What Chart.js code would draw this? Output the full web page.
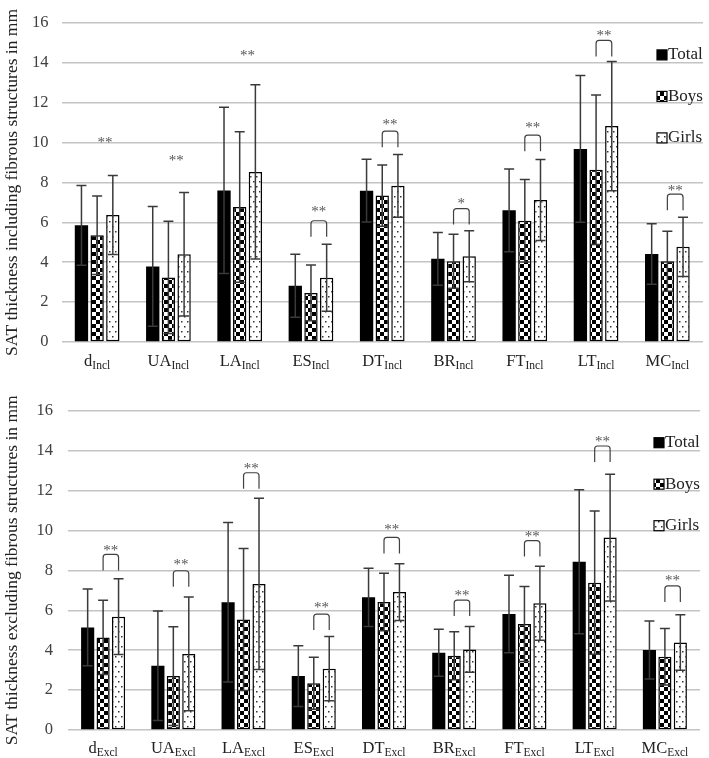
<!DOCTYPE html>
<html lang="en">
<head>
<meta charset="UTF-8">
<title>SAT thickness</title>
<style>
    body { margin: 0; background: #fff; }
    .box { position: absolute; left: 0; width: 709px; }
    #top { top: 0; height: 375px; }
    #bottom { top: 375px; height: 383px; }
</style>
</head>
<body>
<div class="box" id="top"><canvas id="chartIncl"></canvas></div>
<div class="box" id="bottom"><canvas id="chartExcl"></canvas></div>

<script src="https://cdn.jsdelivr.net/npm/chart.js"></script>
<script>
    const sites = ['d', 'UA', 'LA', 'ES', 'DT', 'BR', 'FT', 'LT', 'MC'];

    // including fibrous structures (mean, SD)
    const inclTotal = [5.85, 3.79, 7.6, 2.82, 7.59, 4.17, 6.6, 9.68, 4.41];
    const inclTotalSD = [2.0, 3.0, 4.17, 1.58, 1.57, 1.32, 2.07, 3.68, 1.52];
    const inclBoys = [5.35, 3.24, 6.77, 2.46, 7.34, 4.05, 6.08, 8.64, 4.05];
    const inclBoysSD = [1.97, 2.82, 3.77, 1.4, 1.54, 1.35, 2.07, 3.75, 1.5];
    const inclGirls = [6.37, 4.4, 8.53, 3.22, 7.83, 4.3, 7.12, 10.83, 4.77];
    const inclGirlsSD = [1.98, 3.1, 4.37, 1.68, 1.57, 1.28, 2.03, 3.24, 1.48];
    const inclStars = ['**', '**', '**', '**', '**', '*', '**', '**', '**'];
    const inclStarAt = [10.13, 9.24, 14.5, 6.65, 11.02, 7.05, 10.86, 15.48, 7.73];
    const inclBracket = [null, null, null, 6.08, 10.57, 6.69, 10.37, 15.12, 7.41];

    // excluding fibrous structures (mean, SD)
    const exclTotal = [5.14, 3.22, 6.4, 2.7, 6.65, 3.87, 5.81, 8.43, 4.01];
    const exclTotalSD = [1.92, 2.74, 4.0, 1.52, 1.46, 1.18, 1.94, 3.61, 1.45];
    const exclBoys = [4.64, 2.7, 5.54, 2.34, 6.41, 3.72, 5.31, 7.38, 3.67];
    const exclBoysSD = [1.86, 2.48, 3.56, 1.3, 1.44, 1.2, 1.88, 3.59, 1.42];
    const exclGirls = [5.68, 3.81, 7.32, 3.07, 6.91, 4.04, 6.35, 9.64, 4.38];
    const exclGirlsSD = [1.9, 2.85, 4.29, 1.61, 1.42, 1.15, 1.85, 3.17, 1.39];
    const exclStars = ['**', '**', '**', '**', '**', '**', '**', '**', '**'];
    const exclStarAt = [9.1, 8.43, 13.23, 6.26, 10.19, 6.88, 9.82, 14.56, 7.6];
    const exclBracket = [8.8, 7.98, 12.89, 5.81, 9.65, 6.51, 9.49, 14.23, 7.22];

    const groups = ['Total', 'Boys', 'Girls'];
    const yTicks = [0, 2, 4, 6, 8, 10, 12, 14, 16];

    const FONT = "'Liberation Serif', 'Times New Roman', serif";
    const patCtx = document.createElement('canvas').getContext('2d');

    function checker() {
        const c = document.createElement('canvas');
        c.width = 8; c.height = 8;
        const g = c.getContext('2d');
        g.fillStyle = '#fff'; g.fillRect(0, 0, 8, 8);
        g.fillStyle = '#000';
        g.fillRect(0, 0, 4, 4); g.fillRect(4, 4, 4, 4);
        return patCtx.createPattern(c, 'repeat');
    }

    function dots() {
        const c = document.createElement('canvas');
        c.width = 6; c.height = 10;
        const g = c.getContext('2d');
        g.fillStyle = '#fff'; g.fillRect(0, 0, 6, 10);
        g.fillStyle = '#333';
        g.fillRect(1, 1, 1.5, 1.5); g.fillRect(4, 6, 1.5, 1.5);
        return patCtx.createPattern(c, 'repeat');
    }

    const fills = ['#000', checker(), dots()];

    // error bars (mean +/- SD)
    const errorBars = {
        id: 'errorBars',
        afterDatasetsDraw(chart) {
            const ctx = chart.ctx, y = chart.scales.y;
            ctx.save();
            ctx.strokeStyle = '#3a3a3a';
            ctx.lineWidth = 1.5;
            chart.data.datasets.forEach((ds, di) => {
                chart.getDatasetMeta(di).data.forEach((bar, i) => {
                    const hi = y.getPixelForValue(ds.data[i] + ds.sd[i]);
                    const lo = y.getPixelForValue(ds.data[i] - ds.sd[i]);
                    ctx.beginPath();
                    ctx.moveTo(bar.x, hi); ctx.lineTo(bar.x, lo);
                    ctx.moveTo(bar.x - 5, hi); ctx.lineTo(bar.x + 5, hi);
                    ctx.moveTo(bar.x - 5, lo); ctx.lineTo(bar.x + 5, lo);
                    ctx.stroke();
                });
            });
            ctx.restore();
        }
    };

    // significance stars and brackets between boys and girls
    const significance = {
        id: 'sig',
        afterDatasetsDraw(chart, args, opts) {
            const ctx = chart.ctx, y = chart.scales.y;
            const boys = chart.getDatasetMeta(1).data;
            const girls = chart.getDatasetMeta(2).data;
            ctx.save();
            ctx.strokeStyle = '#404040';
            ctx.lineWidth = 1.2;
            ctx.fillStyle = '#555';
            ctx.font = '15px ' + FONT;
            ctx.textAlign = 'center';
            ctx.textBaseline = 'alphabetic';
            opts.stars.forEach((s, i) => {
                const x1 = boys[i].x, x2 = girls[i].x;
                ctx.fillText(s, (x1 + x2) / 2, y.getPixelForValue(opts.starAt[i]) + 7);
                const b = opts.bracket[i];
                if (b === null) return;
                const top = y.getPixelForValue(b), r = 3;
                ctx.beginPath();
                ctx.moveTo(x1, top + 16);
                ctx.lineTo(x1, top + r);
                ctx.quadraticCurveTo(x1, top, x1 + r, top);
                ctx.lineTo(x2 - r, top);
                ctx.quadraticCurveTo(x2, top, x2, top + r);
                ctx.lineTo(x2, top + 16);
                ctx.stroke();
            });
            ctx.restore();
        }
    };

    // category labels with subscripts
    const subLabels = {
        id: 'subLabels',
        afterDraw(chart, args, opts) {
            const ctx = chart.ctx, x = chart.scales.x;
            const base = chart.chartArea.bottom + opts.offset;
            ctx.save();
            ctx.fillStyle = '#222';
            ctx.textBaseline = 'alphabetic';
            ctx.textAlign = 'left';
            chart.data.labels.forEach((lab, i) => {
                ctx.font = '16.5px ' + FONT;
                const w1 = ctx.measureText(lab).width;
                ctx.font = '11.5px ' + FONT;
                const w2 = ctx.measureText(opts.sub).width;
                const left = x.getPixelForValue(i) - (w1 + w2) / 2;
                ctx.font = '16.5px ' + FONT;
                ctx.fillText(lab, left, base);
                ctx.font = '11.5px ' + FONT;
                ctx.fillText(opts.sub, left + w1, base + 3);
            });
            ctx.restore();
        }
    };

    // legend drawn over the right side of the plot
    const sideLegend = {
        id: 'sideLegend',
        afterDraw(chart) {
            const ctx = chart.ctx, area = chart.chartArea;
            const bx = area.right - 46;
            ctx.save();
            ctx.font = '17px ' + FONT;
            ctx.textBaseline = 'middle';
            ctx.textAlign = 'left';
            chart.data.datasets.forEach((ds, i) => {
                const cy = area.top + 32 + i * 41.5;
                ctx.fillStyle = ds.backgroundColor;
                ctx.fillRect(bx, cy - 5, 10, 10);
                ctx.strokeStyle = '#000';
                ctx.lineWidth = 1.2;
                ctx.strokeRect(bx, cy - 5, 10, 10);
                ctx.fillStyle = '#222';
                ctx.fillText(ds.label, bx + 11, cy);
            });
            ctx.restore();
        }
    };

    function build(id, series, sds, sub, title, stars, starAt, bracket, pad) {
        new Chart(document.getElementById(id), {
            type: 'bar',
            data: {
                labels: sites,
                datasets: groups.map((g, i) => ({
                    label: g,
                    data: series[i],
                    sd: sds[i],
                    backgroundColor: fills[i],
                    borderColor: '#000',
                    borderWidth: i === 0 ? 0 : 1.5,
                    borderSkipped: false,
                    categoryPercentage: 0.66,
                    barPercentage: 0.85
                }))
            },
            options: {
                responsive: true,
                maintainAspectRatio: false,
                animation: false,
                layout: { padding: { top: pad.top, right: pad.right, left: 0, bottom: 0 } },
                plugins: {
                    legend: { display: false },
                    tooltip: { enabled: false },
                    sig: { stars: stars, starAt: starAt, bracket: bracket },
                    subLabels: { sub: sub, offset: pad.labelOffset }
                },
                scales: {
                    x: {
                        grid: { display: false },
                        border: { display: false },
                        ticks: { display: false },
                        afterFit(s) { s.height = pad.bottom; }
                    },
                    y: {
                        min: 0,
                        max: 16,
                        afterBuildTicks(s) { s.ticks = yTicks.map(v => ({ value: v })); },
                        grid: { color: '#c4c4c4', lineWidth: 1.5, drawTicks: false },
                        border: { display: false },
                        ticks: {
                            color: '#404040',
                            padding: pad.tickPad,
                            font: { family: FONT, size: 16.5 }
                        },
                        title: {
                            display: true,
                            text: title,
                            color: '#222',
                            padding: { top: 2, bottom: 0 },
                            font: { family: FONT, size: 17.5 }
                        },
                        afterFit(s) { s.width = pad.left; }
                    }
                }
            },
            plugins: [errorBars, significance, subLabels, sideLegend]
        });
    }

    build('chartIncl',
        [inclTotal, inclBoys, inclGirls],
        [inclTotalSD, inclBoysSD, inclGirlsSD],
        'Incl', 'SAT thickness including fibrous structures in mm',
        inclStars, inclStarAt, inclBracket,
        { top: 12.5, right: 6, bottom: 33, left: 61.5, tickPad: 13, labelOffset: 24 });

    build('chartExcl',
        [exclTotal, exclBoys, exclGirls],
        [exclTotalSD, exclBoysSD, exclGirlsSD],
        'Excl', 'SAT thickness excluding fibrous structures in mm',
        exclStars, exclStarAt, exclBracket,
        { top: 35.7, right: 9, bottom: 28, left: 68, tickPad: 15, labelOffset: 23 });
</script>
</body>
</html>
